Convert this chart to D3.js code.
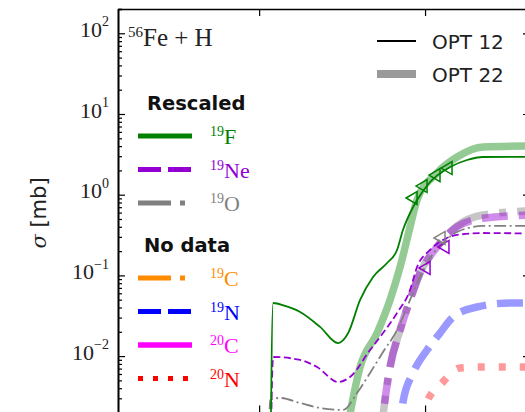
<!DOCTYPE html>
<html>
<head>
<meta charset="utf-8">
<script src="https://cdn.jsdelivr.net/npm/d3@7"></script>
<style>
  body { margin: 0; background: #fff; }
  svg { display: block; }
</style>
</head>
<body>
<svg id="chart" width="525" height="412"></svg>
<script>
// Production cross sections for 56Fe + H, energy in MeV/nucleon, sigma in mb.
// OPT 12 curves
const f19Opt12 = [[116.5,2e-4],[121.4,0.0455],[143.4,0.0418],[176.6,0.0352],[233,0.023],[299,0.0145],[344,0.0193],[406,0.0496],[486,0.0955],[590,0.1425],[678,0.2065],[736,0.365],[812,0.593],[895,0.859],[1072,1.437],[1416,2.20],[1791,2.69],[2234,2.93],[4300,2.95]];
const ne19Opt12 = [[116.5,2e-4],[121.4,0.00975],[176.6,0.00895],[223.5,0.00733],[299,0.00478],[353,0.00551],[466,0.0119],[558,0.0193],[678,0.0342],[812,0.0659],[895,0.127],[1072,0.2065],[1283,0.275],[1559,0.317],[2234,0.335],[4300,0.33]];
const o19Opt12 = [[113.3,2e-4],[116.5,0.00286],[133.8,0.00303],[176.6,0.00262],[233,0.00228],[320.6,0.00215],[389,0.00349],[466,0.00618],[558,0.01125],[678,0.021],[812,0.0496],[933,0.0955],[1072,0.164],[1283,0.252],[1559,0.345],[2234,0.41],[4300,0.41]];

// OPT 22 curves
const f19Opt22 = [[330,9e-4],[406,0.00733],[514,0.0193],[615,0.0496],[707,0.127],[812,0.398],[895,0.859],[1181,1.86],[1559,2.93],[2234,3.90],[4300,4.01]];
const ne19Opt22 = [[535.6,9e-4],[566,0.00234],[615,0.00733],[707,0.021],[812,0.0496],[933,0.107],[1181,0.225],[1559,0.398],[2234,0.51],[4300,0.56]];
const o19Opt22 = [[535.6,9e-4],[566,0.00234],[615,0.00733],[707,0.021],[812,0.0496],[933,0.107],[1181,0.225],[1559,0.41],[2234,0.56],[4300,0.63]];
const n19Opt22 = [[707,9e-4],[736,0.0027],[847,0.00618],[1028,0.0119],[1231,0.0193],[1475,0.0305],[2056,0.0406],[3251,0.0455],[4300,0.0455]];
const n20Opt22 = [[959,9e-4],[1028,0.0027],[1266,0.00464],[1625,0.00713],[2361,0.00733],[4300,0.00733]];

// Measured points
const f19Data = [[835,0.91],[959,1.28],[1148,1.75],[1357,2.14]];
const ne19Data = [[1000,0.1236],[1300,0.225]];
const o19Data = [[1231,0.291]];

// Axis ticks
const yMajorTicks = [1e-2, 1e-1, 1, 10, 100];
const yTickExponents = ["\u22122", "\u22121", "0", "1", "2"];
const xMajorTicks = [100, 1000];

// Legend entries
const rescaledNames = [["19", "F"], ["19", "Ne"], ["19", "O"]];
const noDataNames = [["19", "C"], ["19", "N"], ["20", "C"], ["20", "N"]];
const modelNames = ["OPT 12", "OPT 22"];

const plotLeft = 118, plotRight = 530, plotTop = 9, plotBottom = 412.5;

const x = d3.scaleLog().domain([14.1, 4291]).range([plotLeft, plotRight]);
const y = d3.scaleLog().domain([2e-3, 200]).range([plotBottom, plotTop]);

const svg = d3.select("#chart");

svg.append("defs").append("clipPath").attr("id", "plotArea")
  .append("rect").attr("x", plotLeft).attr("y", plotTop)
  .attr("width", plotRight - plotLeft).attr("height", plotBottom - plotTop);

const colors = {
  F19: "#008000", Ne19: "#9400d3", O19: "#808080",
  C19: "#ff8c00", N19: "#0000ff", C20: "#ff00ff", N20: "#ff0000"
};

const line = d3.line()
  .x(d => x(d[0]))
  .y(d => y(d[1]))
  .curve(d3.curveMonotoneX);

const plot = svg.append("g").attr("clip-path", "url(#plotArea)");

// thick translucent OPT 22 curves
const thick = [
  { data: n20Opt22, color: colors.N20, dash: "7,14", op: 0.4 },
  { data: n19Opt22, color: colors.N19, dash: "26,11", op: 0.4 },
  { data: o19Opt22, color: colors.O19, dash: "45,11,7,11", op: 0.45 },
  { data: ne19Opt22, color: colors.Ne19, dash: "26,11", op: 0.45 },
  { data: f19Opt22, color: colors.F19, dash: null, op: 0.42 }
];
thick.forEach(s => {
  plot.append("path")
    .attr("d", line(s.data))
    .attr("fill", "none")
    .attr("stroke", s.color)
    .attr("stroke-opacity", s.op)
    .attr("stroke-width", 7.5)
    .attr("stroke-dasharray", s.dash);
});

// thin OPT 12 curves
const thin = [
  { data: o19Opt12, color: colors.O19, dash: "12,3.5,2,3.5" },
  { data: ne19Opt12, color: colors.Ne19, dash: "7,3.5" },
  { data: f19Opt12, color: colors.F19, dash: null }
];
thin.forEach(s => {
  plot.append("path")
    .attr("d", line(s.data))
    .attr("fill", "none")
    .attr("stroke", s.color)
    .attr("stroke-width", 1.8)
    .attr("stroke-dasharray", s.dash);
});

// open left-pointing triangles
const tri = "M-6,0L5,-6.5L5,6.5Z";
[[f19Data, colors.F19], [ne19Data, colors.Ne19], [o19Data, colors.O19]].forEach(([pts, c]) => {
  plot.selectAll(null).data(pts).enter().append("path")
    .attr("d", tri)
    .attr("transform", d => `translate(${x(d[0])},${y(d[1])})`)
    .attr("fill", "none")
    .attr("stroke", c)
    .attr("stroke-width", 1.5);
});

// axes
const minorTicks = [];
for (let e = -3; e <= 2; e++) {
  for (let m = 2; m <= 9; m++) {
    const v = m * Math.pow(10, e);
    if (v >= 2e-3 && v <= 200) minorTicks.push(v);
  }
}

const axisStyle = g => {
  g.selectAll("path.domain").attr("stroke", "#000").attr("stroke-width", 1.6);
  g.selectAll(".tick line").attr("stroke", "#000").attr("stroke-width", 1.2);
};

svg.append("g").attr("transform", `translate(${plotLeft},0)`)
  .call(d3.axisLeft(y).tickValues(minorTicks).tickSize(-4).tickFormat(""))
  .call(axisStyle);

const yAxis = svg.append("g").attr("transform", `translate(${plotLeft},0)`)
  .call(d3.axisLeft(y).tickValues(yMajorTicks).tickSizeInner(-7).tickSizeOuter(0).tickPadding(9).tickFormat(""))
  .call(axisStyle);

yAxis.selectAll(".tick text").each(function(d, i) {
  const t = d3.select(this)
    .attr("font-family", "'Liberation Serif', serif")
    .attr("fill", "#222")
    .attr("dy", "0.32em");
  t.append("tspan").attr("font-size", 22).text("10");
  t.append("tspan").attr("font-size", 14).attr("dy", "-0.75em").text(yTickExponents[i]);
});

svg.append("g").attr("transform", `translate(${plotRight},0)`)
  .call(d3.axisRight(y).tickValues(yMajorTicks).tickSizeInner(-7).tickSizeOuter(0).tickFormat(""))
  .call(axisStyle);

svg.append("g").attr("transform", `translate(0,${plotTop})`)
  .call(d3.axisTop(x).tickValues(xMajorTicks).tickSizeInner(-7).tickSizeOuter(0).tickFormat(""))
  .call(axisStyle);

svg.append("g").attr("transform", `translate(0,${plotBottom})`)
  .call(d3.axisBottom(x).tickValues(xMajorTicks).tickSizeInner(-7).tickSizeOuter(0).tickFormat(""))
  .call(axisStyle);

// y label
const ylab = svg.append("text")
  .attr("transform", "translate(46,213) rotate(-90)")
  .attr("text-anchor", "middle")
  .attr("fill", "#222")
  .attr("font-size", 21);
ylab.append("tspan").attr("font-family", "'DejaVu Serif', serif").attr("font-style", "italic").text("\u03c3");
ylab.append("tspan").attr("font-family", "'DejaVu Sans', sans-serif").text(" [mb]");

// reaction label
const title = svg.append("text").attr("x", 128).attr("y", 46)
  .attr("font-family", "'Liberation Serif', serif").attr("fill", "#222");
title.append("tspan").attr("font-size", 15).attr("dy", "-9").text("56");
title.append("tspan").attr("font-size", 25).attr("dy", "9").text("Fe + H");

// isotope legend
const legend = svg.append("g");
const header = (txt, xp, yp) => legend.append("text")
  .attr("x", xp).attr("y", yp)
  .attr("font-family", "'DejaVu Sans', sans-serif")
  .attr("font-weight", "bold")
  .attr("font-size", 19.5)
  .attr("fill", "#111")
  .text(txt);

const legendStyles = {
  F19: { dash: null, w: 5 }, Ne19: { dash: "23,7", w: 5 }, O19: { dash: "33,9,5,9", w: 5 },
  C19: { dash: "33,9,5,9", w: 5 }, N19: { dash: "23,7", w: 5 }, C20: { dash: null, w: 5.5 },
  N20: { dash: "5,10", w: 5 }
};

const entry = (name, yp) => {
  const key = name[1] + name[0];
  const c = colors[key];
  const st = legendStyles[key];
  legend.append("line")
    .attr("x1", 138).attr("x2", 192).attr("y1", yp).attr("y2", yp)
    .attr("stroke", c).attr("stroke-width", st.w)
    .attr("stroke-dasharray", st.dash);
  const t = legend.append("text").attr("x", 210).attr("y", yp + 8)
    .attr("font-family", "'Liberation Serif', serif").attr("fill", c);
  t.append("tspan").attr("font-size", 14).attr("dy", -8).text(name[0]);
  t.append("tspan").attr("font-size", 22).attr("dy", 8).text(name[1]);
};

header("Rescaled", 147, 110);
rescaledNames.forEach((n, i) => entry(n, 136 + i * 33.5));
header("No data", 144, 252);
noDataNames.forEach((n, i) => entry(n, 278 + i * 33.5));

// model legend
const modelStyles = [
  { w: 1.8, color: "#000", op: 1 },
  { w: 8, color: "#808080", op: 0.8 }
];
modelNames.forEach((n, i) => {
  const yp = 41 + i * 33;
  svg.append("line")
    .attr("x1", 377).attr("x2", 416).attr("y1", yp).attr("y2", yp)
    .attr("stroke", modelStyles[i].color)
    .attr("stroke-opacity", modelStyles[i].op)
    .attr("stroke-width", modelStyles[i].w);
  svg.append("text").attr("x", 432).attr("y", yp + 7.5)
    .attr("font-family", "'DejaVu Sans', sans-serif")
    .attr("font-size", 20).attr("fill", "#222").text(n);
});
</script>
</body>
</html>
